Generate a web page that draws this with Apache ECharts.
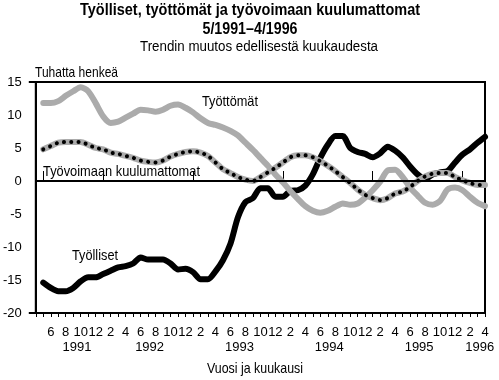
<!DOCTYPE html>
<html><head><meta charset="utf-8">
<script src="https://cdn.jsdelivr.net/npm/echarts@6/dist/echarts.min.js"></script>
<style>html,body{margin:0;padding:0;background:#fff}#c{width:499px;height:380px}</style>
</head><body><div id="c"></div>
<script>
const FONT = "'Liberation Sans', Arial, sans-serif";

// x values: month number counted from Dec 1990 (5 = 5/1991 ... 64 = 4/1996)
const firstMonth = 5;
const years = ['1991', '1992', '1993', '1994', '1995', '1996'];
const yearSeparators = [5, 13, 25, 37, 49, 61];
const yearLabelPos = [9.5, 19.2, 31.2, 43.2, 55.2, 63.3];
const monthLabelPos = [6, 8, 10, 12, 14, 16, 18, 20, 22, 24, 26, 28, 30, 32, 34, 36, 38, 40, 42, 44, 46, 48, 50, 52, 54, 56, 58, 60, 62, 64];
const yTicks = [-20, -15, -10, -5, 0, 5, 10, 15];

const tyolliset = [
  -15.4, -16.2, -16.7, -16.7, -16.2, -15.2, -14.6, -14.6,
  -14.1, -13.6, -13.1, -12.9, -12.5, -11.6, -11.9, -11.9, -11.9, -12.5, -13.4, -13.3,
  -13.8, -14.9, -14.9, -13.7, -12.0, -9.5, -5.5, -3.2, -2.6, -1.1, -1.1, -2.4,
  -2.4, -1.5, -1.4, -0.7, 1.0, 3.5, 5.5, 6.8, 6.8, 5.0, 4.4, 4.1,
  3.6, 4.2, 5.2, 4.6, 3.6, 2.2, 1.0, 0.3, 1.0, 1.3, 1.5, 2.8,
  4.0, 4.8, 5.8, 6.7
];
const tyottomat = [
  11.8, 11.8, 12.1, 12.9, 13.6, 14.2, 13.6, 11.8,
  9.8, 8.8, 9.0, 9.6, 10.2, 10.8, 10.7, 10.5, 10.8, 11.4, 11.6, 11.1,
  10.4, 9.5, 8.8, 8.5, 8.1, 7.6, 6.9, 5.8, 4.7, 3.5, 2.3, 1.0,
  -0.2, -1.5, -2.7, -3.8, -4.5, -4.8, -4.5, -3.9, -3.4, -3.6, -3.4, -2.5,
  -1.4, -0.1, 1.6, 1.7, 0.6, -1.0, -2.2, -3.3, -3.6, -3.0, -1.3, -1.0,
  -1.4, -2.4, -3.3, -3.8
];
const kuulumattomat = [
  4.8, 5.3, 5.8, 5.9, 5.9, 5.9, 5.5, 5.0,
  4.8, 4.3, 4.1, 3.8, 3.5, 3.1, 2.9, 2.8, 3.1, 3.7, 4.1, 4.4,
  4.5, 4.3, 3.8, 2.8, 1.8, 1.2, 0.6, 0.2, 0.0, 0.6, 1.3, 2.0,
  2.8, 3.6, 3.9, 3.9, 3.6, 3.0, 2.3, 1.5, 0.6, -0.3, -1.3, -2.1,
  -2.6, -2.9, -2.6, -1.9, -1.6, -0.9, 0.0, 0.7, 1.1, 1.2, 1.2, 0.6,
  0.1, -0.3, -0.6, -0.6
];

const toXY = arr => arr.map((v, i) => [firstMonth + i, v]);
const GRAY = '#ababab';

// narrow-looking text: scale horizontally to a target width
const measureCtx = document.createElement('canvas').getContext('2d');
function narrowText(text, font, x, y, targetW, align) {
  measureCtx.font = font;
  const w = measureCtx.measureText(text).width;
  const s = targetW / w;
  return {
    type: 'text', x: x, y: y, scaleX: s,
    style: {text: text, font: font, fill: '#000', align: align || 'left', verticalAlign: 'top'}
  };
}

const chart = echarts.init(document.getElementById('c'), null, {renderer: 'canvas'});
chart.setOption({
  animation: false,
  backgroundColor: '#fff',
  textStyle: {fontFamily: FONT, color: '#000'},
  grid: {left: 35, right: 14, top: 82, bottom: 67, show: true, borderColor: '#000', borderWidth: 2, backgroundColor: 'transparent'},
  xAxis: [{
    type: 'value', min: 4, max: 64, interval: 1, position: 'bottom',
    axisLine: {show: true, onZero: false, lineStyle: {color: '#000', width: 2}},
    axisTick: {show: true, length: 4, lineStyle: {color: '#000', width: 1}},
    axisLabel: {
      customValues: monthLabelPos, margin: 13, color: '#000', fontFamily: FONT, fontSize: 13,
      formatter: v => String(((v - 1) % 12) + 1)
    },
    splitLine: {show: false}
  }, {
    type: 'value', min: 4, max: 64, position: 'bottom', offset: 28,
    axisLine: {show: false},
    axisTick: {show: true, inside: true, customValues: yearSeparators, length: 10, lineStyle: {color: '#000', width: 1}},
    axisLabel: {
      customValues: yearLabelPos, margin: 0, color: '#000', fontFamily: FONT, fontSize: 13,
      formatter: v => years[Math.floor((v - 1) / 12)]
    },
    splitLine: {show: false}
  }],
  yAxis: {
    type: 'value', min: -20, max: 15, interval: 5,
    axisLine: {show: true, lineStyle: {color: '#000', width: 2}},
    axisTick: {show: true, customValues: [15, -20], length: 7, lineStyle: {color: '#000', width: 2}},
    axisLabel: {color: '#000', fontFamily: FONT, fontSize: 13, margin: 14, customValues: yTicks},
    splitLine: {show: true, lineStyle: {color: '#000', width: 1}}
  },
  series: [{
    name: 'Työlliset', type: 'line', data: toXY(tyolliset), showSymbol: false, smooth: 0.25,
    lineStyle: {color: '#000', width: 6, cap: 'round', join: 'round'},
    markLine: {silent: true, symbol: 'none', label: {show: false},
      lineStyle: {color: '#000', width: 2, type: 'solid'}, data: [{yAxis: 0}]}
  }, {
    name: 'Työttömät', type: 'line', data: toXY(tyottomat), showSymbol: false, smooth: 0.25,
    lineStyle: {color: GRAY, width: 6, cap: 'round', join: 'round'}
  }, {
    name: 'Työvoimaan kuulumattomat', type: 'line', data: toXY(kuulumattomat), showSymbol: false, smooth: 0.25,
    lineStyle: {color: GRAY, width: 6, cap: 'round', join: 'round'}
  }, {
    name: 'Työvoimaan kuulumattomat (pisteet)', type: 'line', data: toXY(kuulumattomat), showSymbol: false, smooth: 0.25,
    lineStyle: {color: '#000', width: 4, type: [0.1, 7.2], cap: 'round', join: 'round'}
  }],
  graphic: [
    narrowText('Työlliset, työttömät ja työvoimaan kuulumattomat', 'bold 17px ' + FONT, 250, 2, 340, 'center'),
    narrowText('5/1991–4/1996', 'bold 17px ' + FONT, 250, 21, 95, 'center'),
    narrowText('Trendin muutos edellisestä kuukaudesta', '14px ' + FONT, 259, 40, 238, 'center'),
    narrowText('Tuhatta henkeä', '15px ' + FONT, 35, 65, 83),
    narrowText('Työttömät', '15px ' + FONT, 202, 94, 56),
    narrowText('Työvoimaan kuulumattomat', '15px ' + FONT, 43, 164, 157),
    narrowText('Työlliset', '15px ' + FONT, 72, 248, 46),
    narrowText('Vuosi ja kuukausi', '15px ' + FONT, 255, 361, 96, 'center')
  ]
});
</script>
</body></html>
